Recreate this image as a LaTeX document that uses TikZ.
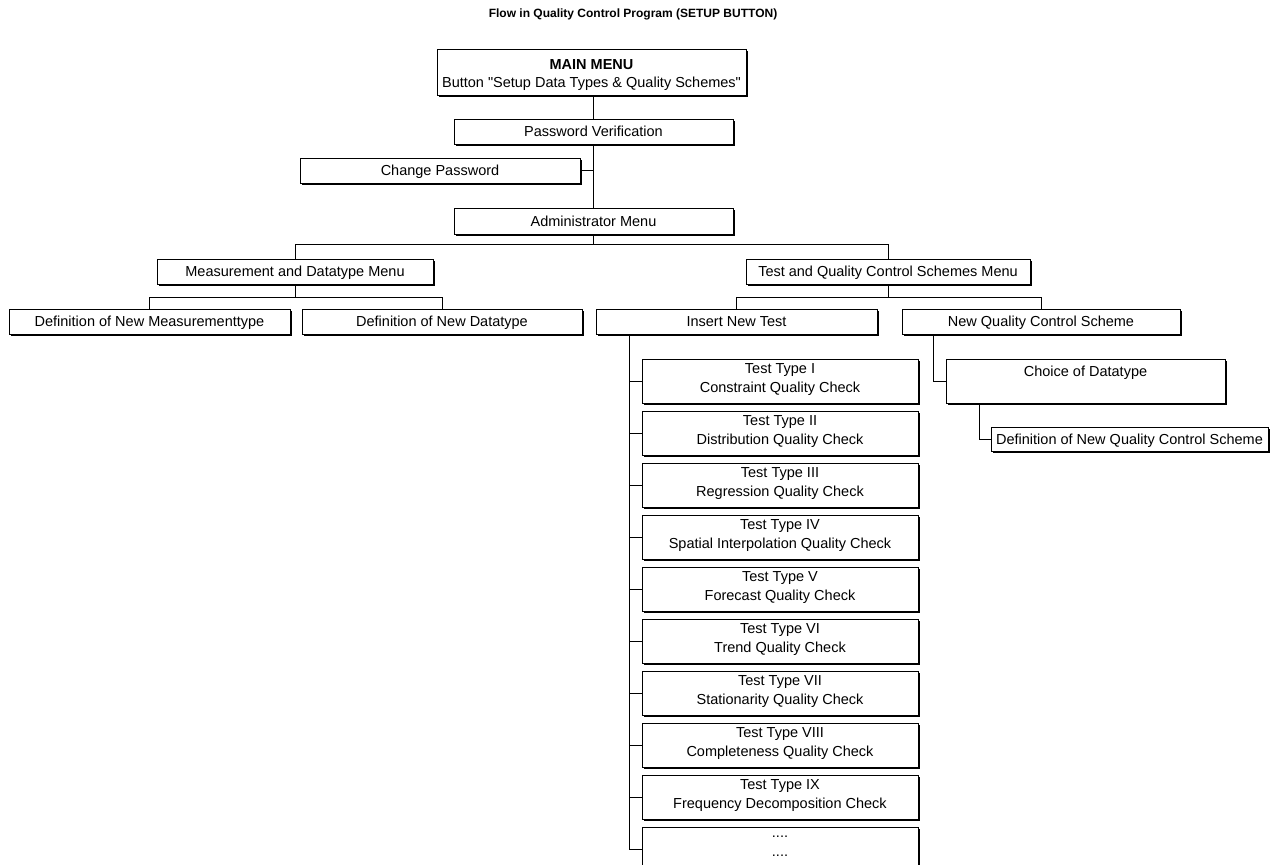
\documentclass[tikz,border=0pt]{standalone}
\usepackage{fontspec}
\setmainfont{Liberation Sans}
\newfontfamily\nolig{Liberation Sans}[Ligatures=TeXOff]
\usetikzlibrary{shadows}
\begin{document}
\begin{tikzpicture}[x=1pt,y=-1pt,
  box/.style={draw, line width=0.8pt, fill=white, rectangle, inner sep=0pt,
    align=center, font=\fontsize{14.5}{19}\selectfont,
    text height=10.4pt, text depth=0pt,
    general shadow={fill=black, shadow xshift=2pt, shadow yshift=-2pt}},
  two/.style={box, minimum height=44, text height=22.4pt, text depth=0pt},
  conn/.style={draw, line width=0.8pt}]
\useasboundingbox (0,0) rectangle (1270,865);
\node[font=\bfseries\fontsize{12}{14}\selectfont] (title) at (633,14) {Flow in Quality Control Program (SETUP BUTTON)};
\node[box, minimum width=309, minimum height=46, font=\fontsize{14.5}{18}\selectfont,
  text height=30.4pt, text depth=0pt] (main) at (591.5,72)
  {{\bfseries MAIN MENU}\\{\nolig Button "Setup Data Types \& Quality Schemes"}};
\node[box, minimum width=279, minimum height=25] (pw) at (593.5,131.5) {Password Verification};
\node[box, minimum width=280, minimum height=25] (cp) at (440,170.5) {Change Password};
\node[box, minimum width=279, minimum height=26] (admin) at (593.5,221) {Administrator Menu};
\node[box, minimum width=276, minimum height=25] (mdm) at (295,271.5) {Measurement and Datatype Menu};
\node[box, minimum width=284, minimum height=25] (tqm) at (888,271.5) {Test and Quality Control Schemes Menu};
\node[box, minimum width=281, minimum height=25] (dmt) at (149.5,321.5) {Definition of New Measurementtype};
\node[box, minimum width=280, minimum height=25] (ddt) at (442,321.5) {Definition of New Datatype};
\node[box, minimum width=281, minimum height=25] (int) at (736.5,321.5) {Insert New Test};
\node[box, minimum width=278, minimum height=25] (nqc) at (1041,321.5) {New Quality Control Scheme};
\foreach \i/\txt [count=\k from 0] in {1/{Test Type I\\Constraint Quality Check},
  2/{Test Type II\\Distribution Quality Check},
  3/{Test Type III\\Regression Quality Check},
  4/{Test Type IV\\Spatial Interpolation Quality Check},
  5/{Test Type V\\Forecast Quality Check},
  6/{Test Type VI\\Trend Quality Check},
  7/{Test Type VII\\Stationarity Quality Check},
  8/{Test Type VIII\\Completeness Quality Check},
  9/{Test Type IX\\Frequency Decomposition Check}}
  \node[two, minimum width=276] (t\i) at (780,381+52*\k) {\txt};
\node[two, minimum width=276, text height=14pt] (t10) at (780,849) {....\\....};
\node[box, minimum width=279, minimum height=44, text height=10.4pt, text depth=20pt] (cod) at (1085.5,381) {Choice of Datatype};
\node[box, minimum width=277, minimum height=24] (dnq) at (1129.5,439) {Definition of New Quality Control Scheme};
% connectors
\draw[conn] (main.south -| pw.north) -- (pw.north);
\draw[conn] (pw.south) -- (admin.north);
\draw[conn] (cp.east) -- (cp.east -| pw.south);
\draw[conn] (admin.south) -- ++(0,10) -| (mdm.north);
\draw[conn] (admin.south) -- ++(0,10) -| (tqm.north);
\draw[conn] (mdm.south) -- ++(0,13) -| (dmt.north);
\draw[conn] (mdm.south) -- ++(0,13) -| (ddt.north);
\draw[conn] (tqm.south) -- ++(0,13) -| (int.north);
\draw[conn] (tqm.south) -- ++(0,13) -| (nqc.north);
\coordinate (it) at ([xshift=34pt]int.south west);
\foreach \i in {1,...,10} \draw[conn] (it) |- (t\i.west);
\draw[conn] ([xshift=32pt]nqc.south west) |- (cod.west);
\draw[conn] ([xshift=34pt]cod.south west) |- (dnq.west);
\end{tikzpicture}
\end{document}
